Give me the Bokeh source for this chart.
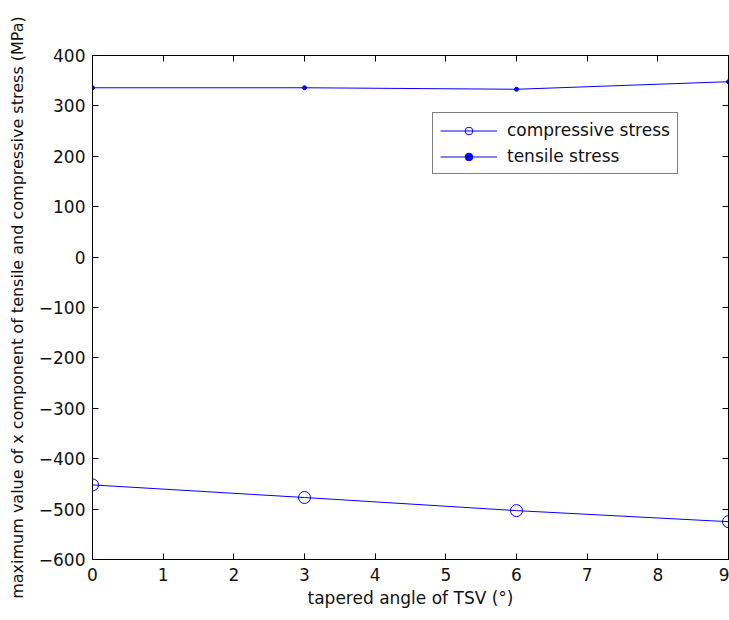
from bokeh.plotting import figure
from bokeh.models import Range1d, LinearAxis, FixedTicker, Legend, LegendItem
from bokeh.embed import file_html
from bokeh.resources import INLINE

angles = [0, 3, 6, 9]
compressive = [-452, -477, -503, -525]
tensile = [336, 336, 333, 348]
x_ticks = [0, 1, 2, 3, 4, 5, 6, 7, 8, 9]
y_ticks = [-600, -500, -400, -300, -200, -100, 0, 100, 200, 300, 400]

FONT = "DejaVu Sans"
FS = "17px"

p = figure(width=729, height=620, output_backend="svg", toolbar_location=None,
           x_range=Range1d(0, 9), y_range=Range1d(-600, 400),
           min_border_left=92, min_border_right=1, min_border_top=55, min_border_bottom=61)
p.xgrid.visible = False
p.ygrid.visible = False
p.outline_line_color = "black"
p.outline_line_width = 1
p.background_fill_color = "white"
p.border_fill_color = "white"

def style(ax, labels=True):
    ax.major_tick_in = 6
    ax.major_tick_out = 0
    ax.minor_tick_in = 0
    ax.minor_tick_out = 0
    ax.axis_line_color = "black"
    ax.major_tick_line_color = "black"
    ax.major_label_text_font = FONT
    ax.major_label_text_font_size = FS
    ax.major_label_text_color = "#111111"
    ax.axis_label_text_font = FONT
    ax.axis_label_text_font_size = FS
    ax.axis_label_text_font_style = "normal"
    ax.axis_label_text_color = "#111111"
    if not labels:
        ax.major_label_overrides = {t: "" for t in ax.ticker.ticks}
        ax.major_label_standoff = 0
        ax.axis_label_standoff = 0

p.xaxis.ticker = FixedTicker(ticks=x_ticks)
p.yaxis.ticker = FixedTicker(ticks=y_ticks)
style(p.xaxis[0])
style(p.yaxis[0])
p.xaxis.axis_label = "tapered angle of TSV (\u00b0)"
p.yaxis.axis_label = "maximum value of x component of tensile and compressive stress (MPa)"
p.yaxis.axis_label_text_font_size = "16px"
p.xaxis.major_label_standoff = 8
p.yaxis.major_label_standoff = 7
p.xaxis.axis_label_standoff = 4
p.yaxis.axis_label_standoff = 9

ra = LinearAxis(ticker=FixedTicker(ticks=y_ticks))
style(ra, labels=False)
p.add_layout(ra, "right")
ta = LinearAxis(ticker=FixedTicker(ticks=x_ticks))
style(ta, labels=False)
p.add_layout(ta, "above")

c_line = p.line(angles, compressive, line_color="blue", line_width=1)
c_pts = p.scatter(angles, compressive, marker="circle", size=12, line_color="blue",
                  fill_color=None, line_width=1)
t_line = p.line(angles, tensile, line_color="blue", line_width=1)
t_pts = p.scatter(angles, tensile, marker="circle", size=4, line_color="blue",
                  fill_color="blue")

legend = Legend(items=[
    LegendItem(label="compressive stress", renderers=[c_line, c_pts]),
    LegendItem(label="tensile stress", renderers=[t_line, t_pts]),
], location=(340, 385))
legend.border_line_color = "black"
legend.border_line_width = 1
legend.background_fill_color = "white"
legend.background_fill_alpha = 1
legend.label_text_font = FONT
legend.label_text_font_size = FS
legend.label_text_color = "#111111"
legend.glyph_width = 57
legend.glyph_height = 19
legend.label_height = 19
legend.label_standoff = 10
legend.spacing = 6
legend.padding = 7
legend.margin = 0
p.add_layout(legend, "center")

open("out.html", "w").write(file_html(p, INLINE))
